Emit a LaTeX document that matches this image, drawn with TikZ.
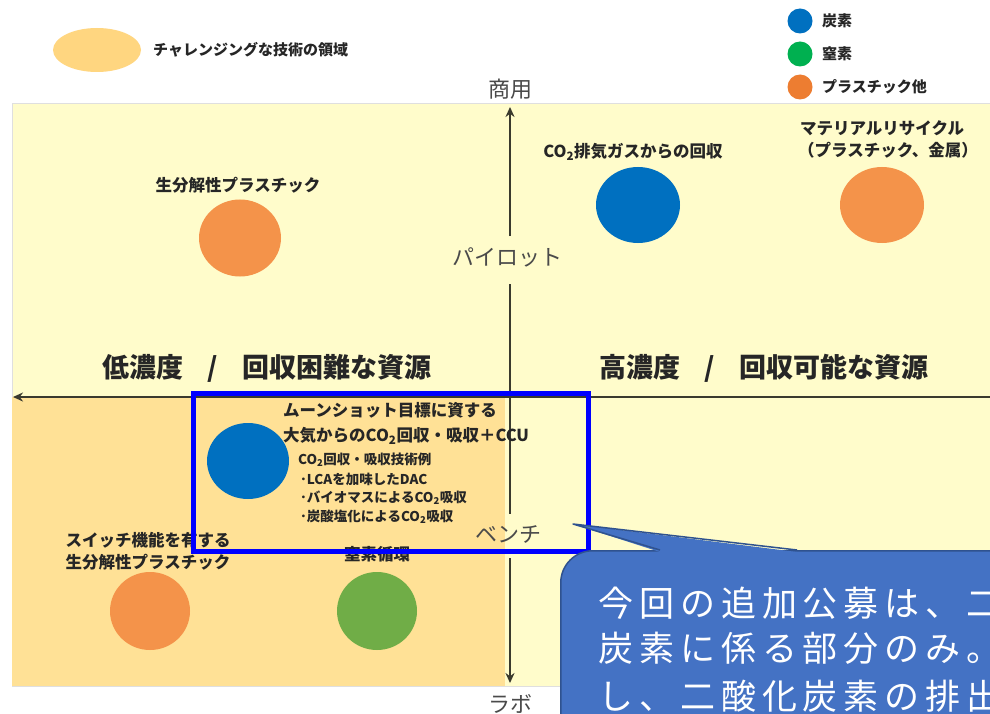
\documentclass[tikz,border=0pt]{standalone}
\usepackage{fontspec}
\setmainfont{Noto Sans CJK JP}
\usetikzlibrary{arrows.meta,shapes.geometric}
\definecolor{paleY}{HTML}{FFFCCB}
\definecolor{chal}{HTML}{FFE196}
\definecolor{chalL}{HTML}{FFD680}
\definecolor{cBlue}{HTML}{0070C0}
\definecolor{cOrange}{HTML}{F4934A}
\definecolor{cGreen}{HTML}{70AD47}
\definecolor{lgGreen}{HTML}{00B050}
\definecolor{lgOrange}{HTML}{ED7D31}
\definecolor{axisC}{HTML}{3A3A2E}
\definecolor{txt}{HTML}{262626}
\definecolor{axTxt}{HTML}{4A4A4A}
\definecolor{callF}{HTML}{4472C4}
\definecolor{callD}{HTML}{2F528F}
\definecolor{boxB}{HTML}{0000FF}
\begin{document}
\begin{tikzpicture}[x=1pt,y=-1pt,
  lbl/.style={font=\bfseries\fontsize{16.5}{19}\selectfont, text=txt, inner sep=0},
  small/.style={font=\bfseries\fontsize{13.5}{16}\selectfont, text=txt, inner sep=0, anchor=west},
  head/.style={font=\bfseries\fontsize{27}{30}\selectfont, text=txt, inner sep=0},
  axlbl/.style={font=\fontsize{22}{24}\selectfont, text=axTxt, inner sep=0},
  lgtxt/.style={font=\bfseries\fontsize{15}{17}\selectfont, text=txt, inner sep=0, anchor=west},
  calltxt/.style={font=\fontsize{35}{40}\selectfont\addfontfeatures{LetterSpace=17}, text=white, inner sep=0, anchor=west},
  dot/.style={ellipse, draw=none, inner sep=0},
  axisline/.style={draw=axisC, line width=2.5pt},
  axarrow/.style={-{Stealth[length=10pt,width=9pt]}}
]
\useasboundingbox (0,0) rectangle (990,714);
\clip (0,0) rectangle (990,714);
\fill[white] (0,0) rectangle (990,714);

% panels
\fill[paleY, draw=gray!25, line width=1pt] (12,104) rectangle (1000,686);
\fill[chal] (12,397) rectangle (505,686);

% legend
\node[dot, fill=chalL, minimum width=88, minimum height=44] (lgChal) at (97,50) {};
\node[lgtxt] (lgChalT) at (153,50) {チャレンジングな技術の領域};
\node[dot, fill=cBlue, minimum size=25] (lgC) at (800,21) {};
\node[dot, fill=lgGreen, minimum size=25] (lgN) at (800,54) {};
\node[dot, fill=lgOrange, minimum size=25] (lgP) at (800,87) {};
\node[lgtxt] (lgCT) at (822,21) {炭素};
\node[lgtxt] (lgNT) at (822,54) {窒素};
\node[lgtxt] (lgPT) at (822,87) {プラスチック他};

% axis labels
\node[axlbl] (shoyo) at (510,89) {商用};
\node[axlbl] (pilot) at (507,257) {パイロット};
\node[axlbl] (bench) at (508,534) {ベンチ};
\node[axlbl] (labo) at (510,704) {ラボ};
\coordinate (vTop) at (510,107);
\coordinate (vA) at (510,236);
\coordinate (vB) at (510,284);
\coordinate (vC) at (510,514);
\coordinate (vD) at (510,558);
\coordinate (vBot) at (510,683);
\coordinate (hRight) at (1000,397);
\coordinate (hLeft) at (13,397);
\draw[axisline, axarrow] (vA) -- (vTop);
\draw[axisline] (vB) -- (vC);
\draw[axisline, axarrow] (vD) -- (vBot);
\draw[axisline, axarrow] (hRight) -- (hLeft);

% headings
\node[head] (low) at (267,368) {低濃度\hspace{24pt}/\hspace{24pt}回収困難な資源};
\node[head] (high) at (764,368) {高濃度\hspace{24pt}/\hspace{24pt}回収可能な資源};

% upper items
\node[lbl] (bioL) at (238,185) {生分解性プラスチック};
\node[dot, fill=cOrange, minimum width=82, minimum height=77] (bio) at (240,238) {};
\node[lbl] (co2L) at (633,152) {CO\textsubscript{2}排気ガスからの回収};
\node[dot, fill=cBlue, minimum width=84, minimum height=76] (co2) at (638,205) {};
\node[lbl] (matL1) at (882,128) {マテリアルリサイクル};
\node[lbl] (matL2) at (888,150) {（プラスチック、金属）};
\node[dot, fill=cOrange, minimum width=84, minimum height=76] (mat) at (882,205) {};

% lower items
\node[lbl] (swL1) at (148,540) {スイッチ機能を有する};
\node[lbl] (swL2) at (148,562) {生分解性プラスチック};
\node[dot, fill=cOrange, minimum width=80, minimum height=78] (sw) at (150,611) {};
\node[lbl] (nL) at (377,554) {窒素循環};
\node[dot, fill=cGreen, minimum width=80, minimum height=78] (nit) at (377,611) {};

% moonshot box
\node[dot, fill=cBlue, minimum width=82, minimum height=76] (dac) at (248,461) {};
\node[lbl, anchor=west] (moon1) at (283,410) {ムーンショット目標に資する};
\node[lbl, anchor=west] (moon2) at (283,436) {大気からのCO\textsubscript{2}回収・吸収＋CCU};
\node[small] (ex0) at (298,460) {CO\textsubscript{2}回収・吸収技術例};
\node[small] (ex1) at (300,479) {･LCAを加味したDAC};
\node[small] (ex2) at (300,498) {･バイオマスによるCO\textsubscript{2}吸収};
\node[small] (ex3) at (300,517) {･炭酸塩化によるCO\textsubscript{2}吸収};
\node[draw=boxB, line width=5pt, minimum width=395, minimum height=158, inner sep=0] (focus) at (390.5,472) {};

% callout
\node[draw=callD, fill=callF, line width=1.5pt, rounded corners=32pt, minimum width=500, minimum height=240, anchor=north west, inner sep=0] (callout) at (560,550) {};
\coordinate (tip) at (573,524);
\coordinate (tbL) at (660,550);
\coordinate (tbR) at (797,550);
\fill[callF] (tip) -- ([yshift=-2pt]tbL) -- ([yshift=-2pt]tbR) -- cycle;
\draw[callD, line width=1.5pt, line join=round] (tbL) -- (tip) -- (tbR);
\node[calltxt] (msg1) at (598,603) {今回の追加公募は、二};
\node[calltxt] (msg2) at (598,648) {炭素に係る部分のみ。};
\node[calltxt] (msg3) at (598,696) {し、二酸化炭素の排出};
\end{tikzpicture}
\end{document}
